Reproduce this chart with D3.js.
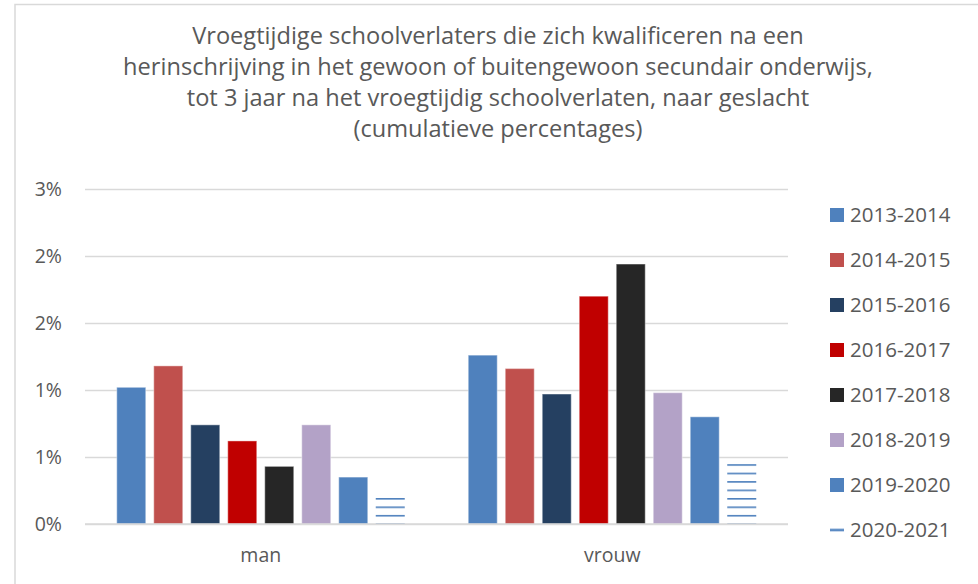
<!DOCTYPE html>
<html><head><meta charset="utf-8">
<script src="https://cdn.jsdelivr.net/npm/d3@7"></script>
<style>html,body{margin:0;padding:0;background:#fff;overflow:hidden}</style>
</head><body>
<svg id="chart" width="978" height="584"></svg>
<script>
const titleLines = [
  "Vroegtijdige schoolverlaters die zich kwalificeren na een",
  "herinschrijving in het gewoon of buitengewoon secundair onderwijs,",
  "tot 3 jaar na het vroegtijdig schoolverlaten, naar geslacht",
  "(cumulatieve percentages)"
];
const categories = ["man", "vrouw"];
const seriesNames = ["2013-2014","2014-2015","2015-2016","2016-2017","2017-2018","2018-2019","2019-2020","2020-2021"];
const seriesColors = ["#4F81BD","#C0504D","#254061","#C00000","#262626","#B3A2C7","#4F81BD","#4F81BD"];
// values in percent: [man, vrouw]
const v2013 = [1.02, 1.26];
const v2014 = [1.18, 1.16];
const v2015 = [0.74, 0.97];
const v2016 = [0.62, 1.70];
const v2017 = [0.43, 1.94];
const v2018 = [0.74, 0.98];
const v2019 = [0.35, 0.80];
const v2020 = [0.20, 0.45];
const seriesValues = [v2013, v2014, v2015, v2016, v2017, v2018, v2019, v2020];
const yTicks = [0, 0.5, 1, 1.5, 2, 2.5];

const svg = d3.select("#chart");
const textColor = "#595959";
const gridColor = "#d9d9d9";
const font = "'Open Sans', 'Noto Sans', sans-serif";

// frame
svg.append("path").attr("d", "M15,584 L15,4.5 L978,4.5")
  .attr("fill", "none").attr("stroke", gridColor).attr("stroke-width", 1.5);

// title
const title = svg.append("g").attr("font-family", font).attr("fill", textColor)
  .attr("text-anchor", "middle").attr("font-size", 23.6);
const baselines = [44, 75, 106, 137];
titleLines.forEach((t, i) => {
  title.append("text").attr("x", 498).attr("y", baselines[i]).text(t);
});

const plot = {left: 85, right: 788, top: 189, bottom: 524};
const y = d3.scaleLinear().domain([0, 2.5]).range([plot.bottom, plot.top]);
const x0 = d3.scaleBand().domain(categories).range([plot.left, plot.right]);
const outer = 31.75;
const x1 = d3.scaleBand().domain(seriesNames)
  .range([outer, x0.bandwidth() - outer]).paddingInner(8/37).paddingOuter(0);

// gridlines
const yAxis = d3.axisLeft(y).tickValues(yTicks)
  .tickFormat(d => d3.format(".0%")(d / 100))
  .tickSize(-(plot.right - plot.left)).tickPadding(23);
const ga = svg.append("g").attr("transform", `translate(${plot.left},0)`).call(yAxis);
ga.select(".domain").remove();
ga.selectAll(".tick line").attr("stroke", gridColor).attr("stroke-width", 1.3);
ga.selectAll(".tick text").attr("fill", textColor).attr("font-size", 19.5)
  .attr("font-family", font);

// pattern for 2020-2021
const defs = svg.append("defs");
const pat = defs.append("pattern").attr("id", "hlines").attr("patternUnits", "userSpaceOnUse")
  .attr("x", 0).attr("y", 515.7 - 0.8).attr("width", 10).attr("height", 8.45);
pat.append("rect").attr("x", 0).attr("y", 0).attr("width", 10).attr("height", 1.6)
  .attr("fill", "#4F81BD");

// bars
const groups = svg.append("g").selectAll("g").data(seriesNames).join("g");
groups.each(function(name, si) {
  const g = d3.select(this);
  const isPattern = si === 7;
  g.selectAll("rect").data(categories.map((c, ci) => ({c, v: seriesValues[si][ci]})))
    .join("rect")
    .attr("x", d => x0(d.c) + x1(name))
    .attr("y", d => y(d.v))
    .attr("width", x1.bandwidth())
    .attr("height", d => y(0) - y(d.v))
    .attr("fill", isPattern ? "url(#hlines)" : seriesColors[si])
    .attr("stroke", isPattern ? "none" : "#ffffff")
    .attr("stroke-opacity", 0.35)
    .attr("stroke-width", 1.2);
});

// baseline
svg.append("line").attr("x1", plot.left).attr("x2", plot.right)
  .attr("y1", y(0)).attr("y2", y(0)).attr("stroke", gridColor).attr("stroke-width", 1.3);

// x labels
const xAxis = d3.axisBottom(x0).tickSize(0).tickPadding(0);
const gx = svg.append("g").attr("transform", `translate(0,${plot.bottom})`).call(xAxis);
gx.select(".domain").remove();
gx.selectAll(".tick text").attr("fill", textColor).attr("font-size", 19.5)
  .attr("font-family", font).attr("dy", null).attr("y", 37.5);

// legend
const legend = svg.append("g").attr("font-family", font).attr("font-size", 20.5).attr("fill", textColor);
const ly = d3.scalePoint().domain(seriesNames).range([215, 530]);
seriesNames.forEach((name, i) => {
  const cy = ly(name);
  if (i === 7) {
    legend.append("rect").attr("x", 830).attr("y", cy - 1.5).attr("width", 14).attr("height", 3)
      .attr("fill", "#8FB0DA");
    legend.append("rect").attr("x", 830).attr("y", cy - 0.6).attr("width", 14).attr("height", 1.4)
      .attr("fill", "#4F81BD");
  } else {
    legend.append("rect").attr("x", 830).attr("y", cy - 7).attr("width", 14).attr("height", 14)
      .attr("fill", seriesColors[i]);
  }
  legend.append("text").attr("x", 850).attr("y", cy).attr("dy", "0.36em").text(name);
});
</script>
</body></html>
